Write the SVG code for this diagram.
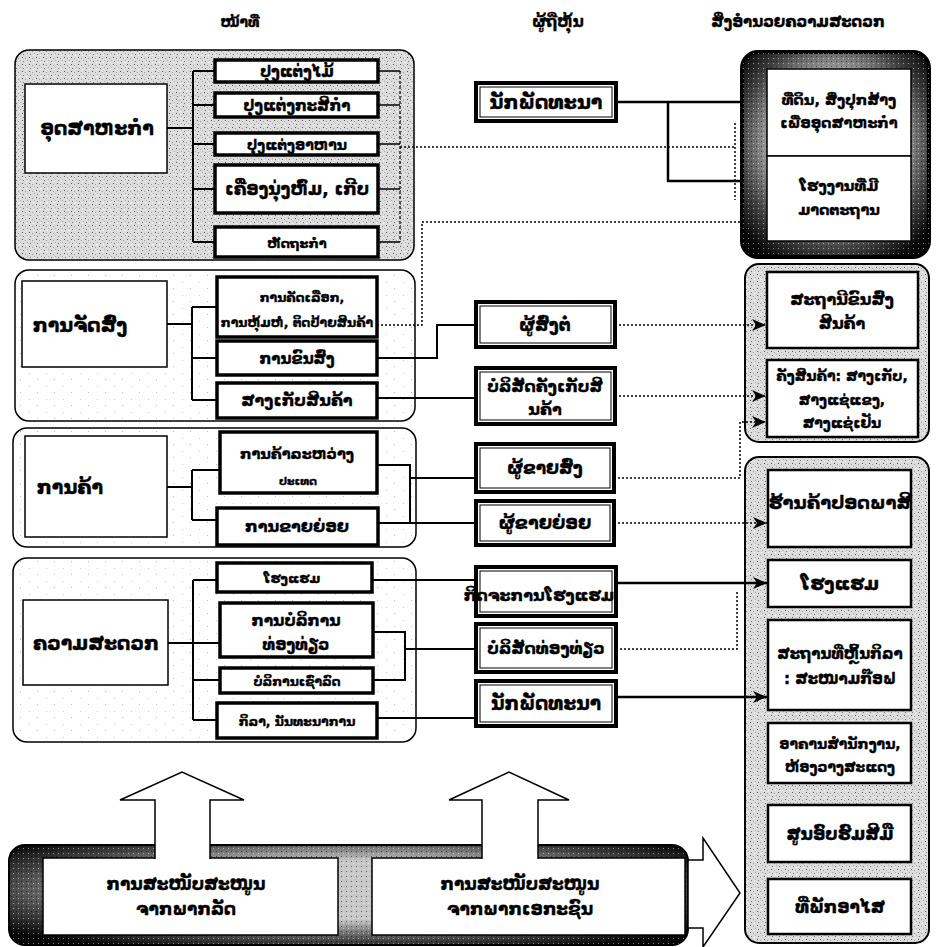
<svg xmlns="http://www.w3.org/2000/svg" width="940" height="947" viewBox="0 0 940 947">
<defs>
  <pattern id="spk" width="7" height="7" patternUnits="userSpaceOnUse">
    <rect width="7" height="7" fill="#dcdcdc"/>
    <rect x="1" y="1" width="1" height="1" fill="#555"/>
    <rect x="4" y="2" width="1" height="1" fill="#999"/>
    <rect x="2" y="5" width="1" height="1" fill="#777"/>
    <rect x="6" y="4" width="1" height="1" fill="#aaa"/>
    <rect x="5" y="6" width="1" height="1" fill="#fff"/>
  </pattern>
  <pattern id="spkw" width="17" height="13" patternUnits="userSpaceOnUse">
    <rect width="17" height="13" fill="#fff"/>
    <rect x="3" y="2" width="1" height="1" fill="#bbb"/>
    <rect x="12" y="9" width="1" height="1" fill="#ccc"/>
  </pattern>
  <pattern id="spko" width="5" height="5" patternUnits="userSpaceOnUse">
    <rect x="1" y="1" width="1" height="1" fill="#000" opacity="0.5"/>
    <rect x="3" y="3" width="1" height="1" fill="#fff" opacity="0.5"/>
  </pattern>
  <radialGradient id="dark" cx="50%" cy="45%" r="65%">
    <stop offset="0.45" stop-color="#c8c8c8"/>
    <stop offset="0.78" stop-color="#444"/>
    <stop offset="1" stop-color="#080808"/>
  </radialGradient>
  <marker id="arr" viewBox="0 0 14 12" refX="14" refY="6" markerWidth="14" markerHeight="12" markerUnits="userSpaceOnUse" orient="auto">
    <path d="M0,0 L14,6 L0,12 L4,6 z" fill="#000"/>
  </marker>
</defs>
<style>
  text{font-family:"DejaVu Sans","Noto Sans",sans-serif;font-weight:bold;fill:#000;stroke:#000;stroke-width:0.35;text-anchor:middle}
  .h{font-size:15px}
  .m{font-size:19px}
  .s{font-size:14px}
  .k{font-size:17px}
  .f{font-size:14.5px}
  .grp{fill:url(#spkw);stroke:#000;stroke-width:1.5}
  .grp1{fill:url(#spk);stroke:#000;stroke-width:1.5}
  .fgrp{fill:url(#spk);stroke:#000;stroke-width:2}
  .dark{fill:url(#dark);stroke:#000;stroke-width:4}
  .ovl{fill:url(#spko);stroke:none}
  .box{fill:#fff;stroke:#000;stroke-width:1.5}
  .sub{fill:#fff;stroke:#000;stroke-width:3.5}
  .sh{fill:#fff;stroke:#000;stroke-width:4}
  .shi{fill:none;stroke:#000;stroke-width:1}
  .fb{fill:#fff;stroke:#000;stroke-width:2.5}
  .fb1{fill:#fff;stroke:#000;stroke-width:1.5}
  .ln{fill:none;stroke:#000;stroke-width:2}
  .lnb{fill:none;stroke:#000;stroke-width:2.5}
  .dash{fill:none;stroke:#000;stroke-width:1.2;stroke-dasharray:3 2}
  .dot{fill:none;stroke:#000;stroke-width:1.5;stroke-dasharray:2 2}
  .big{fill:#fff;stroke:#000;stroke-width:1.5}
</style>

<g id="headers">
  <text class="h" x="240" y="27" style="font-size:14px">ໜ້າທີ່</text>
  <text class="h" x="558" y="27">ຜູ້ຖືຫຸ້ນ</text>
  <text class="h" x="798" y="27">ສິ່ງອຳນວຍຄວາມສະດວກ</text>
</g>

<!-- Group 1: Industry -->
<g id="g-industry">
  <rect class="grp1" x="15" y="50" width="399" height="210" rx="14"/>
  <g id="n-industry"><rect class="box" x="25" y="84" width="142" height="89"/><text class="m" x="97" y="135">ອຸດສາຫະກຳ</text></g>
  <g id="n-wood"><rect class="sub" x="215" y="60" width="163" height="22"/><text class="s" x="297" y="77" style="font-size:15px">ປຸງແຕ່ງໄມ້</text></g>
  <g id="n-agri"><rect class="sub" x="215" y="93" width="163" height="24"/><text class="s" x="297" y="111" style="font-size:15px">ປຸງແຕ່ງກະສິກຳ</text></g>
  <g id="n-food"><rect class="sub" x="215" y="133" width="163" height="22"/><text class="s" x="297" y="150" style="font-size:14px">ປຸງແຕ່ງອາຫານ</text></g>
  <g id="n-cloth"><rect class="sub" x="215" y="165" width="163" height="48"/><text class="k" x="297" y="195">ເຄື່ອງນຸ່ງຫົ່ມ, ເກີບ</text></g>
  <g id="n-craft"><rect class="sub" x="215" y="227" width="163" height="30"/><text class="s" x="297" y="248" style="font-size:13px">ຫັດຖະກຳ</text></g>
</g>

<!-- Group 2: Logistics -->
<g id="g-logistics">
  <rect class="grp" x="15" y="270" width="400" height="151" rx="14"/>
  <g id="n-logistics"><rect class="box" x="22" y="281" width="145" height="86"/><text class="m" x="80" y="332">ການຈັດສົ່ງ</text></g>
  <g id="n-select"><rect class="sub" x="217" y="277" width="160" height="60"/><text class="s" style="font-size:12.5px"><tspan x="302" y="302">ການຄັດເລືອກ,</tspan><tspan x="297" y="327">ການຫຸ້ມຫໍ່, ຕິດປ້າຍສິນຄ້າ</tspan></text></g>
  <g id="n-transport"><rect class="sub" x="217" y="341" width="160" height="34"/><text class="s" x="297" y="364" style="font-size:15px">ການຂົນສົ່ງ</text></g>
  <g id="n-store"><rect class="sub" x="217" y="383" width="160" height="35"/><text class="s" x="297" y="406" style="font-size:16px">ສາງເກັບສິນຄ້າ</text></g>
</g>

<!-- Group 3: Trade -->
<g id="g-trade">
  <rect class="grp" x="13" y="428" width="403" height="119" rx="14"/>
  <g id="n-trade"><rect class="box" x="25" y="436" width="142" height="101"/><text class="m" x="70" y="494">ການຄ້າ</text></g>
  <g id="n-intl"><rect class="sub" x="220" y="432" width="157" height="61"/><text class="s" style="font-size:14.5px"><tspan x="297" y="459">ການຄ້າລະຫວ່າງ</tspan><tspan x="298" y="485" style="font-size:11px">ປະເທດ</tspan></text></g>
  <g id="n-retail"><rect class="sub" x="217" y="508" width="161" height="37"/><text class="s" x="297" y="532" style="font-size:16px">ການຂາຍຍ່ອຍ</text></g>
</g>

<!-- Group 4: Convenience -->
<g id="g-conv">
  <rect class="grp" x="13" y="558" width="403" height="184" rx="14"/>
  <g id="n-conv"><rect class="box" x="23" y="600" width="145" height="85"/><text class="m" x="96" y="650">ຄວາມສະດວກ</text></g>
  <g id="n-hotel"><rect class="sub" x="217" y="563" width="155" height="29"/><text class="s" x="292" y="583" style="font-size:13px">ໂຮງແຮມ</text></g>
  <g id="n-tour"><rect class="sub" x="220" y="603" width="153" height="54"/><text class="s" style="font-size:15.5px"><tspan x="296" y="626">ການບໍລິການ</tspan><tspan x="296" y="650">ທ່ອງທ່ຽວ</tspan></text></g>
  <g id="n-car"><rect class="sub" x="220" y="668" width="153" height="25"/><text class="s" x="297" y="686" style="font-size:12.5px">ບໍລິການເຊົ່າລົດ</text></g>
  <g id="n-sport"><rect class="sub" x="217" y="703" width="160" height="35"/><text class="s" x="297" y="726" style="font-size:12.5px">ກິລາ, ນັນທະນາການ</text></g>
</g>

<!-- Stakeholders -->
<g id="s-dev1"><rect class="sh" x="476" y="83" width="140" height="38"/><rect class="shi" x="480" y="87" width="132" height="30"/><text class="k" x="546" y="109" style="font-size:19px">ນັກພັດທະນາ</text></g>
<g id="s-fwd"><rect class="sh" x="476" y="302" width="139" height="45"/><rect class="shi" x="480" y="306" width="131" height="37"/><text class="k" x="545" y="331">ຜູ້ສົ່ງຕໍ່</text></g>
<g id="s-wh"><rect class="sh" x="476" y="368" width="139" height="56"/><rect class="shi" x="480" y="372" width="131" height="48"/><text class="k" style="font-size:16px"><tspan x="545" y="392">ບໍລິສັດຄັງເກັບສິ</tspan><tspan x="545" y="415">ນຄ້າ</tspan></text></g>
<g id="s-whole"><rect class="sh" x="476" y="444" width="138" height="48"/><rect class="shi" x="480" y="448" width="130" height="40"/><text class="k" x="545" y="474">ຜູ້ຂາຍສົ່ງ</text></g>
<g id="s-retail"><rect class="sh" x="476" y="501" width="138" height="44"/><rect class="shi" x="480" y="505" width="130" height="36"/><text class="k" x="545" y="529" style="font-size:17.5px">ຜູ້ຂາຍຍ່ອຍ</text></g>
<g id="s-hotelbiz"><rect class="sh" x="476" y="567" width="140" height="49"/><rect class="shi" x="480" y="571" width="132" height="41"/><text class="k" x="539" y="601" style="font-size:16px">ກິດຈະການໂຮງແຮມ</text></g>
<g id="s-travel"><rect class="sh" x="476" y="624" width="140" height="48"/><rect class="shi" x="480" y="628" width="132" height="40"/><text class="k" x="546" y="654" style="font-size:16px">ບໍລິສັດທ່ອງທ່ຽວ</text></g>
<g id="s-dev2"><rect class="sh" x="476" y="681" width="140" height="45"/><rect class="shi" x="480" y="685" width="132" height="37"/><text class="k" x="546" y="710" style="font-size:18.5px">ນັກພັດທະນາ</text></g>

<!-- Facilities -->
<g id="f-industry">
  <rect class="dark" x="742" y="52" width="187" height="205" rx="16"/>
  <rect class="ovl" x="742" y="52" width="187" height="205" rx="16"/>
  <g id="f-land"><rect class="fb1" x="767" y="69" width="144" height="87"/><text class="f"><tspan x="839" y="105">ທີ່ດິນ, ສິ່ງປຸກສ້າງ</tspan><tspan x="839" y="128">ເພື່ອອຸດສາຫະກຳ</tspan></text></g>
  <g id="f-factory"><rect class="fb1" x="767" y="156" width="144" height="85"/><text class="f"><tspan x="839" y="191">ໂຮງງານທີ່ມີ</tspan><tspan x="839" y="215">ມາດຕະຖານ</tspan></text></g>
</g>
<g id="f-logistics">
  <rect class="fgrp" x="745" y="264" width="184" height="178" rx="14"/>
  <g id="f-terminal"><rect class="fb" x="767" y="272" width="151" height="76"/><text class="f" style="font-size:16px"><tspan x="842" y="305">ສະຖານີຂົນສົ່ງ</tspan><tspan x="842" y="329">ສິນຄ້າ</tspan></text></g>
  <g id="f-ware"><rect class="fb" x="767" y="360" width="151" height="77"/><text class="f" style="font-size:14px"><tspan x="842" y="381">ຄັງສິນຄ້າ: ສາງເກັບ,</tspan><tspan x="842" y="405">ສາງແຊ່ແຂງ,</tspan><tspan x="842" y="428">ສາງແຊ່ເຢັນ</tspan></text></g>
</g>
<g id="f-trade">
  <rect class="fgrp" x="745" y="457" width="184" height="486" rx="14"/>
  <g id="f-duty"><rect class="fb" x="768" y="470" width="143" height="77"/><text class="f" x="840" y="509" style="font-size:18px">ຮ້ານຄ້າປອດພາສີ</text></g>
  <g id="f-hotel"><rect class="fb" x="768" y="560" width="143" height="47"/><text class="f" x="840" y="590" style="font-size:18px">ໂຮງແຮມ</text></g>
  <g id="f-sport"><rect class="fb" x="768" y="620" width="143" height="90"/><text class="f" style="font-size:15px"><tspan x="840" y="659">ສະຖານທີ່ຫຼິ້ນກິລາ</tspan><tspan x="840" y="684">: ສະໜາມກ໊ອຟ</tspan></text></g>
  <g id="f-office"><rect class="fb" x="768" y="723" width="143" height="60"/><text class="f" style="font-size:14px"><tspan x="840" y="749">ອາຄານສຳນັກງານ,</tspan><tspan x="840" y="772">ຫ້ອງວາງສະແດງ</tspan></text></g>
  <g id="f-train"><rect class="fb" x="768" y="805" width="143" height="57"/><text class="f" x="840" y="840" style="font-size:17px">ສູນອົບຮົມສີມື</text></g>
  <g id="f-res"><rect class="fb" x="768" y="879" width="143" height="55"/><text class="f" x="840" y="913" style="font-size:17px">ທີ່ພັກອາໄສ</text></g>
</g>

<!-- Support -->
<g id="support">
  <rect class="dark" x="9" y="845" width="679" height="100" rx="16" style="stroke-width:2"/>
  <rect class="ovl" x="9" y="845" width="679" height="100" rx="16"/>
  <polygon class="big" points="688,860 703,860 703,838 740,893 703,947 703,928 688,928"/>
  <g id="n-public"><rect class="box" x="43" y="858" width="295" height="77"/><text class="k"><tspan x="186" y="890">ການສະໜັບສະໜູນ</tspan><tspan x="186" y="915">ຈາກພາກລັດ</tspan></text></g>
  <g id="n-private"><rect class="box" x="372" y="858" width="313" height="77"/><text class="k"><tspan x="520" y="890">ການສະໜັບສະໜູນ</tspan><tspan x="520" y="915">ຈາກພາກເອກະຊົນ</tspan></text></g>
  <polygon points="155,859 155,800 120,800 182,772 244,800 210,800 210,859" fill="#fff" stroke="none"/>
  <polyline class="ln" style="stroke-width:1.5" points="155,859 155,800 120,800 182,772 244,800 210,800 210,859"/>
  <polygon points="482,859 482,800 449,800 509,772 569,800 538,800 538,859" fill="#fff" stroke="none"/>
  <polyline class="ln" style="stroke-width:1.5" points="482,859 482,800 449,800 509,772 569,800 538,800 538,859"/>
</g>

<g id="connectors">
  <!-- group 1 -->
  <path class="ln" d="M167,128 H193 M193,71 V242 M193,71 H215 M193,105 H215 M193,144 H215 M193,189 H215 M193,242 H215"/>
  <path class="ln" style="stroke-width:1.5" d="M378,71 H400 M378,105 H400 M378,144 H400 M378,189 H400 M378,242 H400"/>
  <path class="dash" d="M400,71 V242"/>
  <path class="dot" d="M400,147 H735 M735,123 V200"/>
  <path class="lnb" d="M616,102 H742 M668,102 V181 H742"/>
  <path class="dot" d="M377,325 H422 V222 H742"/>
  <!-- group 2 -->
  <path class="ln" d="M167,324 H192 M192,307 V400 M192,307 H217 M192,358 H217 M192,400 H217"/>
  <path class="ln" d="M377,358 H437 V325 H476"/>
  <path class="ln" d="M377,398 H476"/>
  <path class="dot" marker-end="url(#arr)" d="M615,325 H766"/>
  <path class="dot" marker-end="url(#arr)" d="M615,396 H766"/>
  <path class="dot" marker-end="url(#arr)" d="M614,478 H740 V422 H766"/>
  <!-- group 3 -->
  <path class="ln" d="M167,487 H192 M192,470 V520 M192,470 H220 M192,520 H217"/>
  <path class="ln" d="M377,465 H410 V478 H476 M410,478 V523 M378,523 H476"/>
  <path class="dot" marker-end="url(#arr)" d="M614,523 H767"/>
  <!-- group 4 -->
  <path class="ln" d="M168,643 H193 M193,580 V720 M193,580 H217 M193,643 H220 M193,680 H220 M193,720 H217"/>
  <path class="ln" d="M373,632 H405 V680 H373 M405,649 H476"/>
  <path class="ln" d="M372,580 H476"/>
  <path class="ln" d="M377,718 H476"/>
  <path class="lnb" marker-end="url(#arr)" d="M616,583 H767"/>
  <path class="lnb" marker-end="url(#arr)" d="M616,697 H767"/>
  <path class="dot" d="M616,649 H737 V592"/>
</g>
</svg>
